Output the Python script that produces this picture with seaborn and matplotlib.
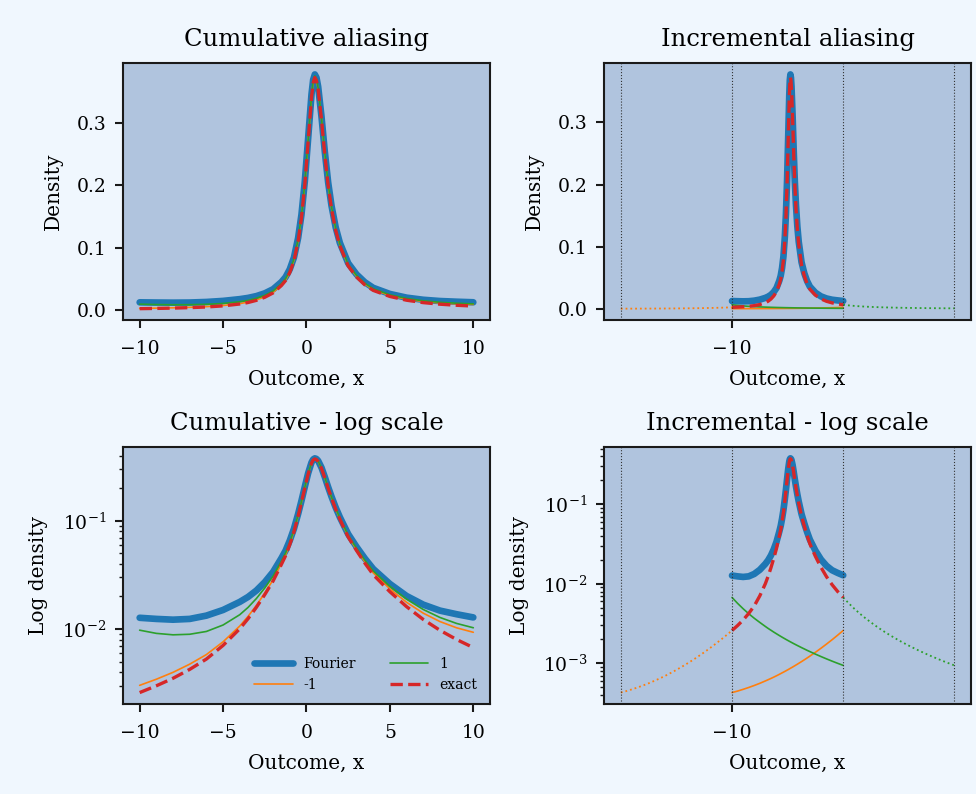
import numpy as np
import matplotlib
matplotlib.use("Agg")
import matplotlib.pyplot as plt
import seaborn as sns

# ---------------- data ----------------
# sample grid over the central period [-10, 10]
x_grid = [-10, -9, -8, -7, -6, -5, -4, -3.5, -3, -2.5, -2, -1.5, -1.25, -1,
          -0.75, -0.5, -0.3, -0.1, 0.1, 0.3, 0.4, 0.5, 0.6, 0.7, 0.9, 1.1,
          1.3, 1.5, 1.75, 2, 2.5, 3, 3.5, 4, 5, 6, 7, 8, 9, 10]

# exact density on [-10, 10]
exact_vals = [0.00259, 0.00299, 0.00351, 0.00424, 0.00528, 0.00706, 0.01005,
              0.01247, 0.0159, 0.0208, 0.0278, 0.0396, 0.0476, 0.0603, 0.0792,
              0.1105, 0.1479, 0.2009, 0.2698, 0.3398, 0.3634, 0.372, 0.3669,
              0.3525, 0.3046, 0.2483, 0.1994, 0.1624, 0.1279, 0.1033, 0.0708,
              0.0531, 0.0406, 0.0318, 0.0221, 0.0161, 0.01226, 0.00974,
              0.0080, 0.00674]

# Fourier approximation on [-10, 10]
fourier_vals = [0.0127, 0.0124, 0.0122, 0.0124, 0.0133, 0.0150, 0.0178, 0.0198,
                0.0227, 0.0271, 0.0337, 0.0452, 0.0531, 0.0657, 0.0845, 0.1157,
                0.1530, 0.2060, 0.2748, 0.3448, 0.3684, 0.377, 0.3719, 0.3575,
                0.3096, 0.2532, 0.2043, 0.1672, 0.1326, 0.1079, 0.0753, 0.0574,
                0.0448, 0.0359, 0.0261, 0.0202, 0.0168, 0.0148, 0.0137, 0.0128]

# alias term "-1": density one period to the left, shifted into [-10, 10]
alias_m1 = [0.000430, 0.000449, 0.000472, 0.000498, 0.000528, 0.000562,
            0.000602, 0.000624, 0.000647, 0.000672, 0.000699, 0.000728,
            0.000744, 0.000760, 0.000776, 0.000793, 0.000807, 0.000822,
            0.000836, 0.000852, 0.000860, 0.000868, 0.000876, 0.000884,
            0.000900, 0.000918, 0.000935, 0.000954, 0.000977, 0.001002,
            0.001053, 0.001109, 0.001169, 0.001234, 0.001379, 0.001550,
            0.001750, 0.001984, 0.002262, 0.002591]

# alias term "1": density one period to the right, shifted into [-10, 10]
alias_p1 = [0.00674, 0.00568, 0.00486, 0.00421, 0.00369, 0.00327, 0.00291,
            0.00275, 0.00261, 0.002475, 0.002355, 0.002241, 0.002188, 0.002137,
            0.002087, 0.00204, 0.002002, 0.001967, 0.001932, 0.001898,
            0.001881, 0.001865, 0.001849, 0.001833, 0.001802, 0.001771,
            0.001742, 0.001713, 0.001678, 0.001645, 0.001579, 0.001519,
            0.00146, 0.001407, 0.001307, 0.001219, 0.001139, 0.001067,
            0.001002, 0.000944]

period = 20.0
boundaries = [-30, -10, 10, 30]

x = np.array(x_grid)
exact = np.array(exact_vals)
fourier = np.array(fourier_vals)
m1 = np.array(alias_m1)
p1 = np.array(alias_p1)
cum_m1 = exact + m1
cum_p1 = exact + m1 + p1

# ---------------- style ----------------
sns.set_theme(style="ticks")
AX_BG = "#B0C4DE"
FIG_BG = "#F0F7FE"
plt.rcParams.update({
    "font.family": ["DejaVu Serif"],
    "mathtext.fontset": "dejavuserif",
    "axes.facecolor": AX_BG,
    "figure.facecolor": FIG_BG,
    "axes.edgecolor": "#1a1a1a",
    "axes.linewidth": 1.5,
    "xtick.major.width": 1.5,
    "ytick.major.width": 1.5,
    "ytick.minor.width": 1.0,
    "xtick.major.size": 5,
    "ytick.major.size": 5,
    "ytick.minor.size": 3,
    "xtick.color": "#1a1a1a",
    "ytick.color": "#1a1a1a",
    "xtick.labelsize": 13.5,
    "ytick.labelsize": 13.5,
    "axes.labelsize": 14.5,
    "axes.titlesize": 17.5,
    "axes.grid": False,
})

C0, C1, C2, C3 = "#1f77b4", "#ff7f0e", "#2ca02c", "#d62728"

fig, axes = plt.subplots(2, 2, figsize=(9.76, 7.94), dpi=100)
fig.subplots_adjust(left=0.126, right=0.995, top=0.921, bottom=0.113,
                    wspace=0.311, hspace=0.49)

LW_F, LW_E, LW_T = 4.8, 2.4, 1.2


def cumulative(ax, log):
    sns.lineplot(x=x, y=fourier, ax=ax, color=C0, lw=LW_F, label="Fourier")
    sns.lineplot(x=x, y=cum_m1, ax=ax, color=C1, lw=LW_T, label="-1")
    sns.lineplot(x=x, y=cum_p1, ax=ax, color=C2, lw=LW_T, label="1")
    sns.lineplot(x=x, y=exact, ax=ax, color=C3, lw=LW_E, linestyle="--",
                 label="exact")
    if log:
        ax.set_yscale("log")


def incremental(ax, log):
    sns.lineplot(x=x, y=fourier, ax=ax, color=C0, lw=LW_F)
    sns.lineplot(x=x, y=m1, ax=ax, color=C1, lw=LW_T)
    sns.lineplot(x=x, y=p1, ax=ax, color=C2, lw=LW_T)
    sns.lineplot(x=x, y=exact, ax=ax, color=C3, lw=LW_E, linestyle="--")
    sns.lineplot(x=x - period, y=m1, ax=ax, color=C1, lw=1.3, linestyle=":")
    sns.lineplot(x=x + period, y=p1, ax=ax, color=C2, lw=1.3, linestyle=":")
    for b in boundaries:
        ax.axvline(b, color="#333333", lw=0.8, linestyle=":")
    ax.set_xticks([-10])
    if log:
        ax.set_yscale("log")


cumulative(axes[0, 0], False)
incremental(axes[0, 1], False)
cumulative(axes[1, 0], True)
incremental(axes[1, 1], True)

titles = ["Cumulative aliasing", "Incremental aliasing",
          "Cumulative - log scale", "Incremental - log scale"]
for ax, t in zip(axes.flat, titles):
    ax.set_title(t, color="black", pad=12)

for ax in axes[0]:
    ax.set_ylabel("Density", color="black", labelpad=10)
    ax.set_yticks([0.0, 0.1, 0.2, 0.3])
    ax.set_yticklabels(["0.0", "0.1", "0.2", "0.3"])
for ax in axes[1]:
    ax.set_ylabel("Log density", color="black", labelpad=10)
for ax in axes.flat:
    ax.set_xlabel("Outcome, x", color="black", labelpad=9)
    ax.margins(x=0.05, y=0.05)
    ax.tick_params(axis="x", which="major", length=6, pad=8,
                   labelcolor="black")
    ax.tick_params(axis="y", which="major", length=6, pad=6,
                   labelcolor="black")

axes[0, 0].get_legend().remove()
leg = axes[1, 0].legend(loc="lower right", ncol=2, fontsize=10,
                        handlelength=2.8, columnspacing=2.4, frameon=True,
                        framealpha=0.8)
leg.get_frame().set_edgecolor("none")
leg.get_frame().set_facecolor(AX_BG)
for t in leg.get_texts():
    t.set_color("black")

fig.savefig("out.png", dpi=100, facecolor=FIG_BG)
